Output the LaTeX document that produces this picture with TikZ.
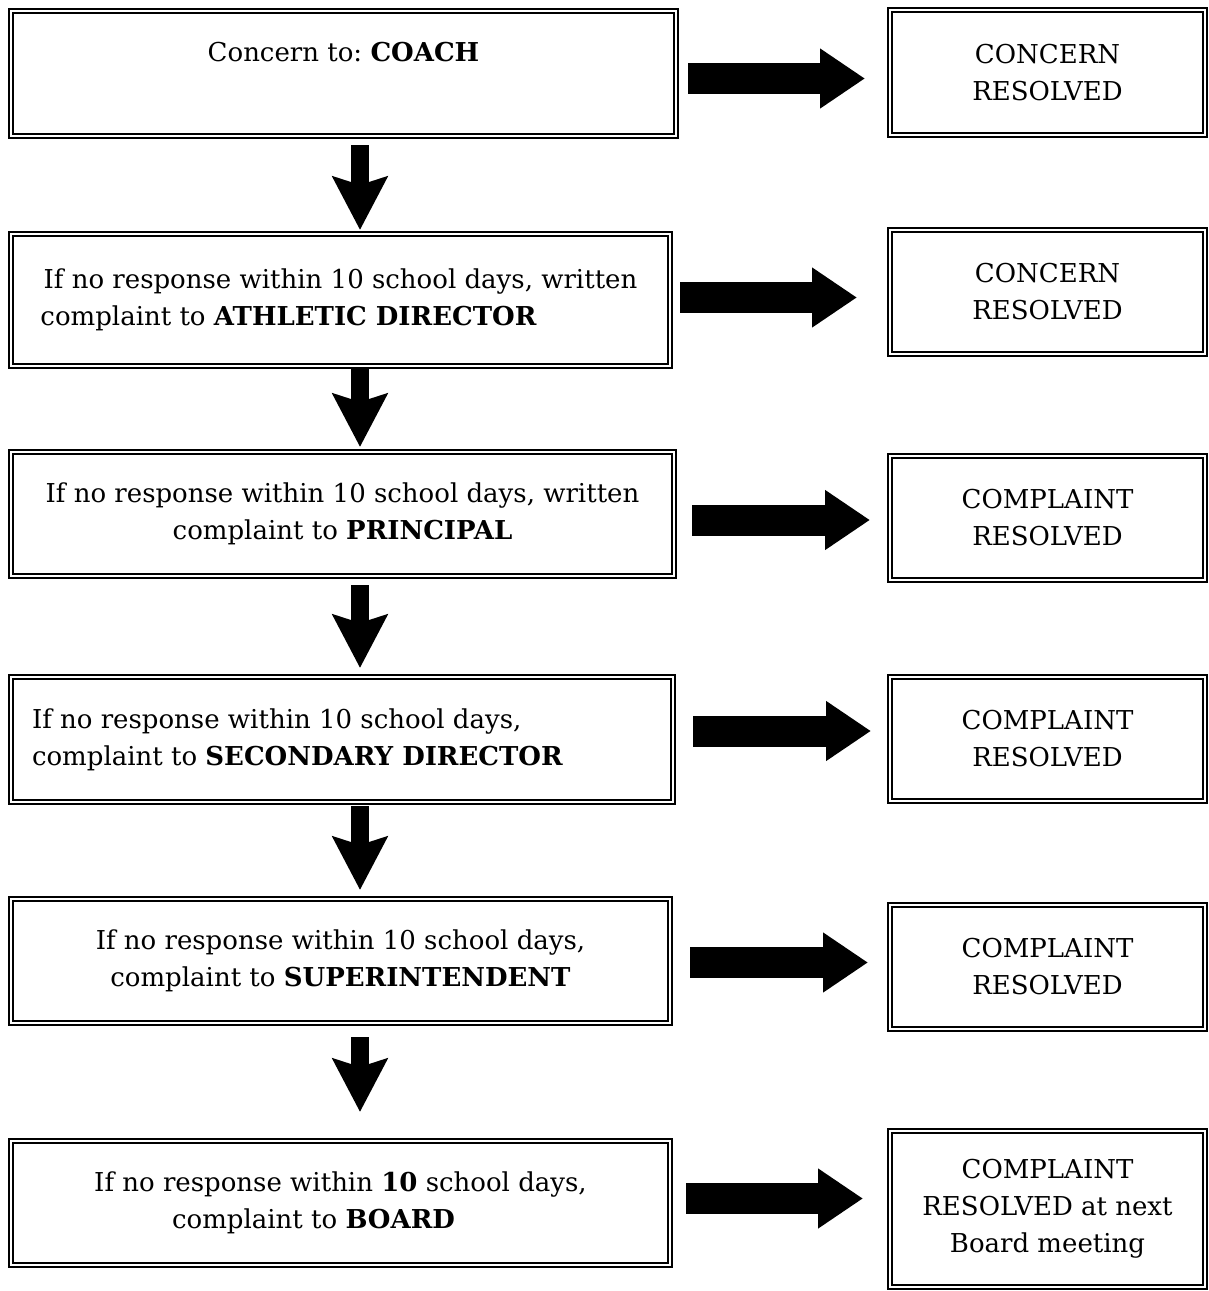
\documentclass[tikz,border=0pt]{standalone}
\usepackage{fontspec}
\setmainfont{DejaVu Serif}
\usepackage{tikz}
\usetikzlibrary{arrows.meta, positioning}
\frenchspacing

\begin{document}
\begin{tikzpicture}[
    x=1pt, y=1pt,
    stepbox/.style={rectangle, draw=black, line width=2.2pt, double, double distance=2pt, outer sep=3.2pt, inner sep=0pt, align=center, minimum height=123.6pt, font=\fontsize{26}{37}\selectfont},
    leftbox/.style={stepbox, minimum width=658.6pt},
    donebox/.style={stepbox, minimum width=314.6pt},
    downarr/.style={-{Stealth[length=53pt, width=54pt, inset=8pt]}, line width=18pt},
    rightarr/.style={-{Triangle[length=45pt, width=57pt]}, line width=31pt}
]
\useasboundingbox (0,0) rectangle (1209,-1291);

% Steps
\node[leftbox, minimum width=664.6pt, minimum height=124.6pt, anchor=north west] (coach) at (8,-8) {Concern to: \textbf{COACH}\\[6pt]\mbox{}};
\node[leftbox, minimum height=131.6pt, below=92pt of coach.south west, anchor=north west] (athletic) {If no response within 10 school days, written\\complaint to \textbf{ATHLETIC DIRECTOR}\hspace*{104pt}};
\node[leftbox, minimum width=662.6pt, below=80pt of athletic.south west, anchor=north west] (principal) {If no response within 10 school days, written\\complaint to \textbf{PRINCIPAL}};
\node[leftbox, minimum width=661.6pt, minimum height=124.6pt, align=flush left, text width=620pt, below=95pt of principal.south west, anchor=north west] (secondary) {If no response within 10 school days,\\complaint to \textbf{SECONDARY DIRECTOR}};
\node[leftbox, below=91pt of secondary.south west, anchor=north west] (superint) {If no response within 10 school days,\\complaint to \textbf{SUPERINTENDENT}};
\node[leftbox, below=112pt of superint.south west, anchor=north west] (board) {If no response within \textbf{10} school days,\\complaint to \textbf{BOARD}\hspace*{54pt}};

% Outcomes
\node[donebox, minimum height=124.6pt, right=208pt of coach.north east, anchor=north west, yshift=1pt] (done1) {CONCERN\\RESOLVED};
\node[donebox, right=214pt of athletic.north east, anchor=north west, yshift=4pt] (done2) {CONCERN\\RESOLVED};
\node[donebox, right=210pt of principal.north east, anchor=north west, yshift=-4pt] (done3) {COMPLAINT\\RESOLVED};
\node[donebox, right=211pt of secondary.north east, anchor=north west] (done4) {COMPLAINT\\RESOLVED};
\node[donebox, right=214pt of superint.north east, anchor=north west, yshift=-6pt] (done5) {COMPLAINT\\RESOLVED};
\node[donebox, minimum height=155.6pt, right=214pt of board.north east, anchor=north west, yshift=10pt] (done6) {COMPLAINT\\RESOLVED at next\\Board meeting};

% Arrows down
\coordinate (ax) at (360,0);
\draw[downarr, shorten <=6pt, shorten >=1pt] (coach.south -| ax) -- (athletic.north -| ax);
\draw[downarr, shorten <=-2pt, shorten >=2pt] (athletic.south -| ax) -- (principal.north -| ax);
\draw[downarr, shorten <=6pt, shorten >=6pt] (principal.south -| ax) -- (secondary.north -| ax);
\draw[downarr, shorten <=1pt, shorten >=6pt] (secondary.south -| ax) -- (superint.north -| ax);
\draw[downarr, shorten <=11pt, shorten >=26pt] (superint.south -| ax) -- (board.north -| ax);

% Arrows right
\draw[rightarr, shorten <=9pt, shorten >=22pt] ([yshift=-5pt]coach.east) -- ([yshift=-5pt]coach.east -| done1.west);
\draw[rightarr, shorten <=7pt, shorten >=30pt] ([yshift=2.5pt]athletic.east) -- ([yshift=2.5pt]athletic.east -| done2.west);
\draw[rightarr, shorten <=15pt, shorten >=17pt] ([yshift=-6pt]principal.east) -- ([yshift=-6pt]principal.east -| done3.west);
\draw[rightarr, shorten <=17pt, shorten >=16pt] ([yshift=8.5pt]secondary.east) -- ([yshift=8.5pt]secondary.east -| done4.west);
\draw[rightarr, shorten <=17pt, shorten >=19pt] ([yshift=-1.5pt]superint.east) -- ([yshift=-1.5pt]superint.east -| done5.west);
\draw[rightarr, shorten <=13pt, shorten >=24pt] ([yshift=4.5pt]board.east) -- ([yshift=4.5pt]board.east -| done6.west);

\end{tikzpicture}
\end{document}
